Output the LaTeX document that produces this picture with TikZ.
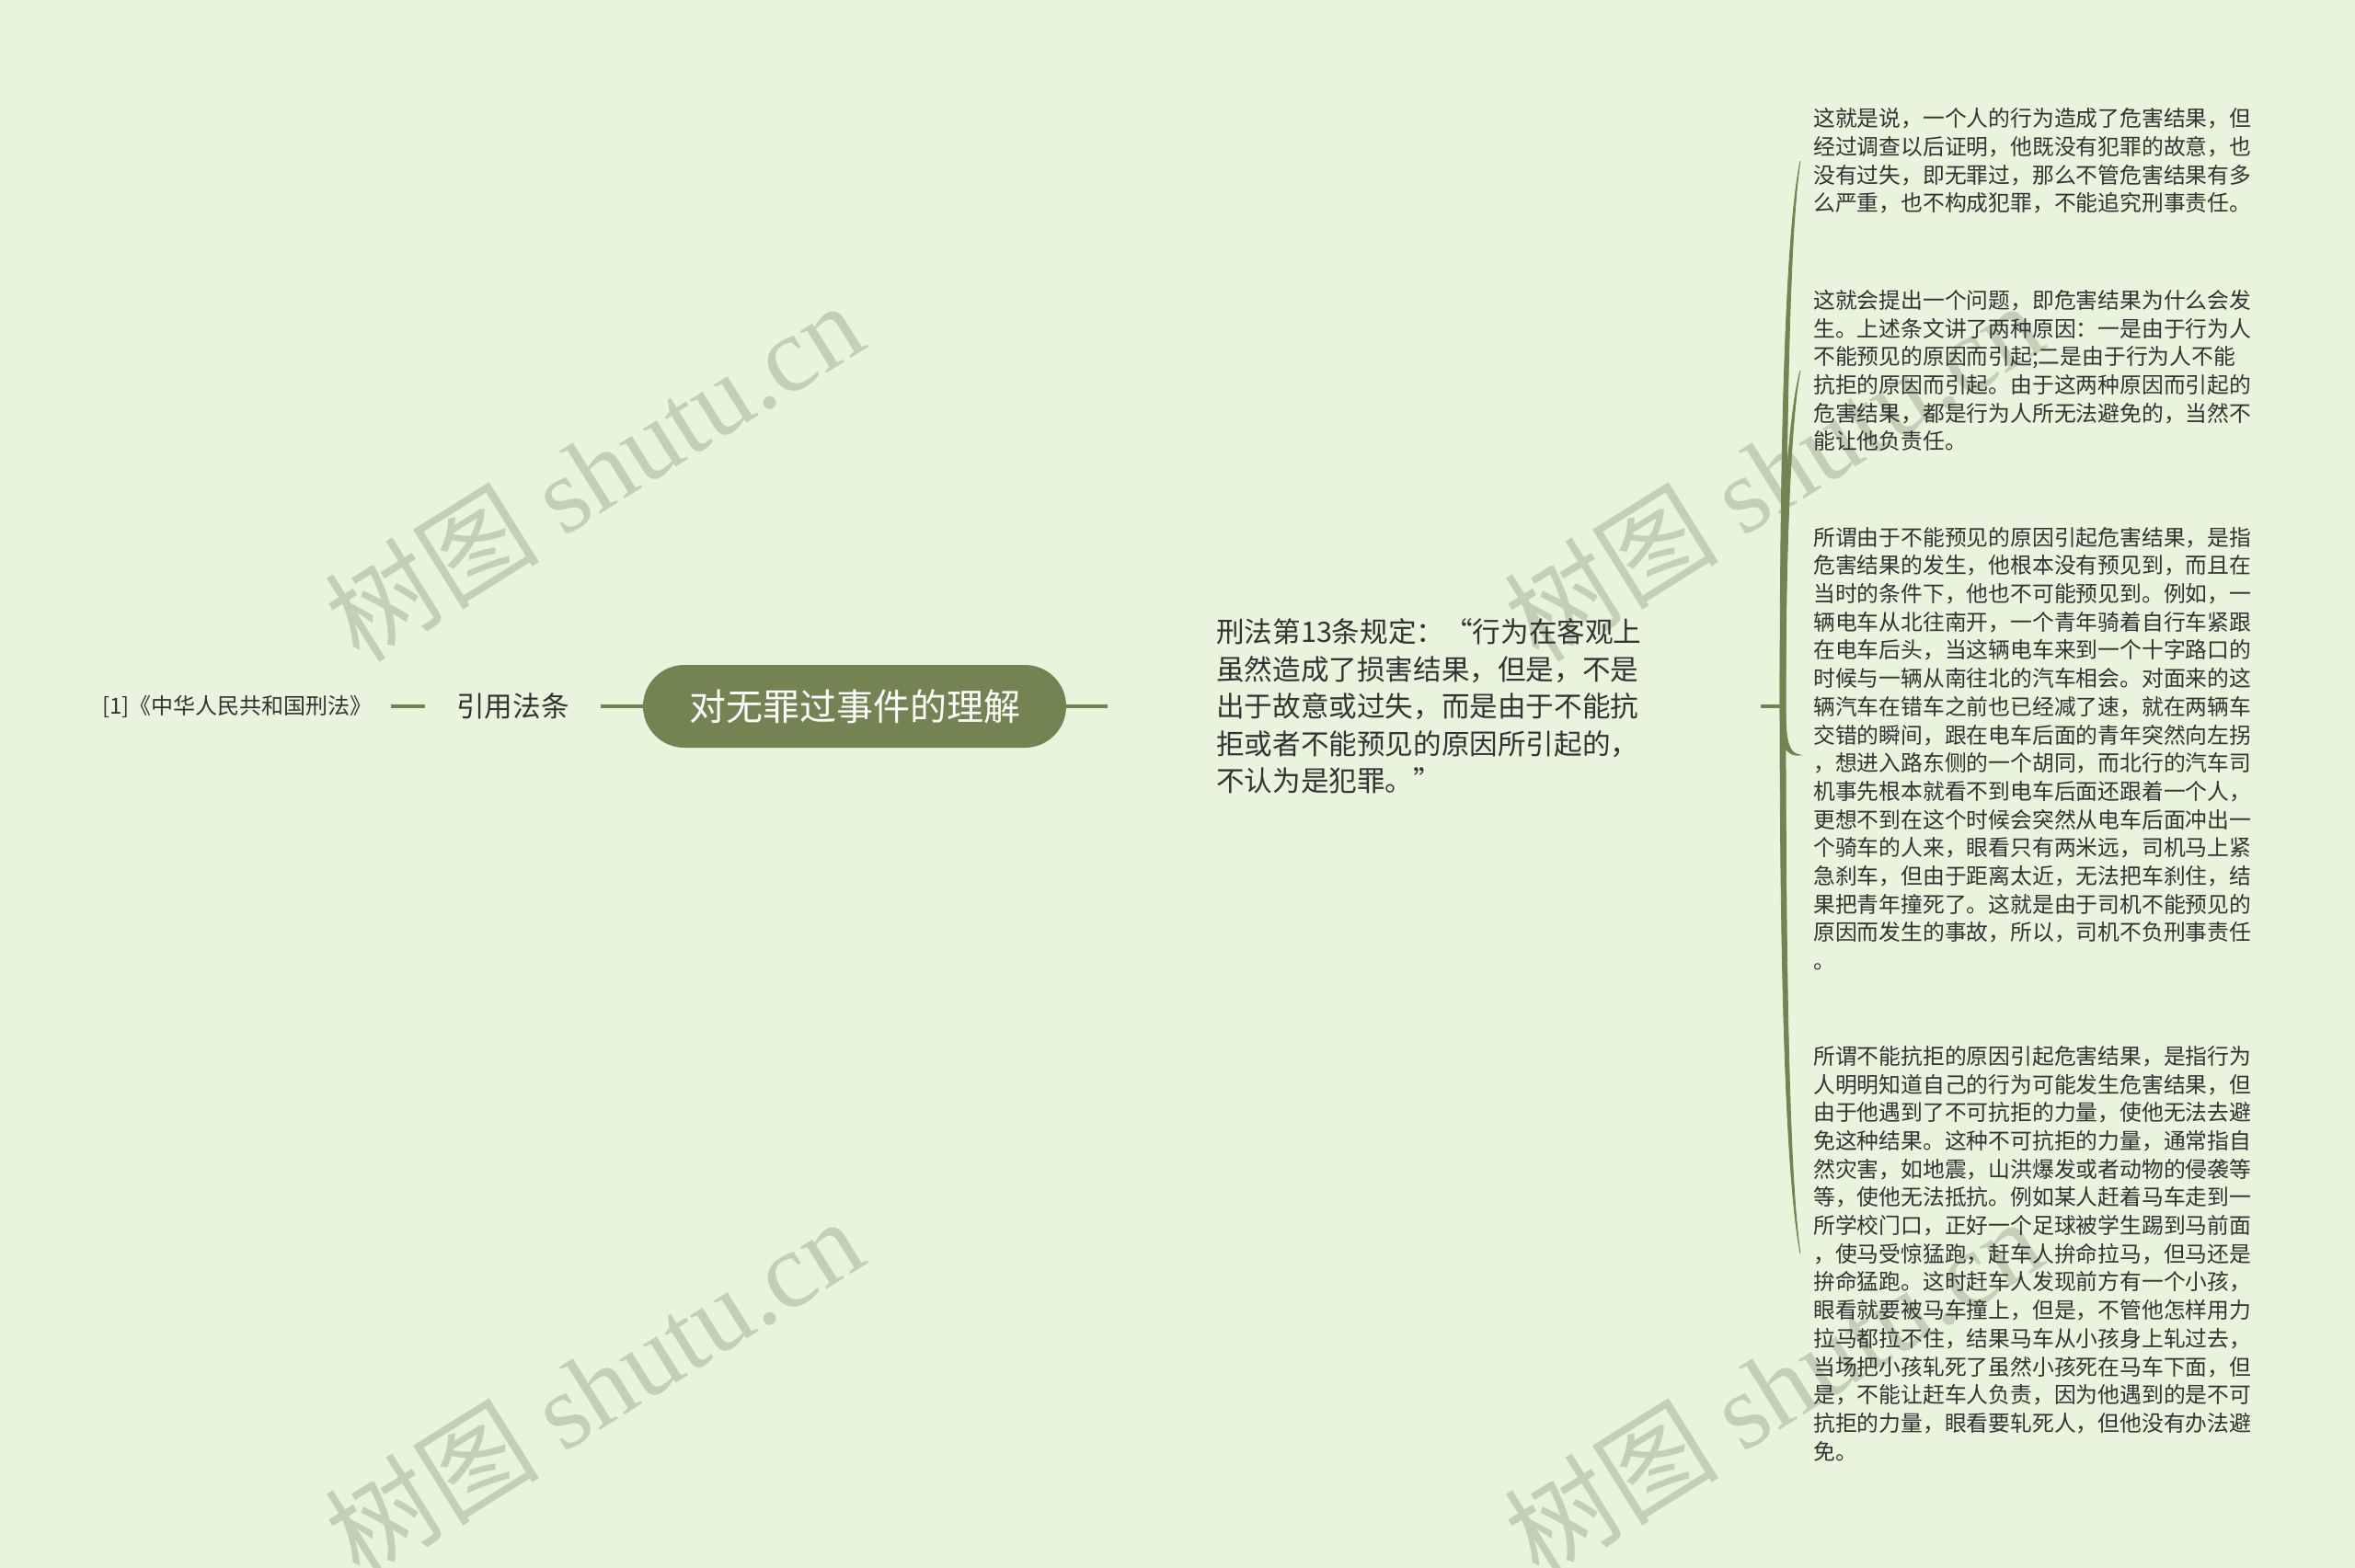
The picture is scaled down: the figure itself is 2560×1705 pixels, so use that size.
\documentclass[tikz,border=0pt]{standalone}
\usepackage{fontspec}
\setmainfont{Noto Sans CJK SC}
\newfontfamily\wmlat{Liberation Serif}
\usetikzlibrary{calc}
\definecolor{bgc}{HTML}{E8F5DC}
\definecolor{lc}{HTML}{738452}
\definecolor{tc}{HTML}{333333}
\definecolor{wmc}{HTML}{C4CFB7}
\begin{document}
\begin{tikzpicture}[x=1bp,y=-1bp,
  conn/.style={draw=lc,line width=4bp},
  taper/.style={fill=lc,draw=lc,line width=0.8bp},
  centerbox/.style={fill=lc,text=white,rounded corners=45bp,minimum width=460bp,minimum height=90bp,inner sep=0,font=\fontsize{40bp}{48bp}\selectfont},
  midtext/.style={text=tc,inner ysep=0,font=\fontsize{30.6bp}{36bp}\selectfont},
  citetext/.style={text=tc,inner ysep=0,inner xsep=20bp,font=\fontsize{24bp}{30bp}\selectfont},
  lawtext/.style={text=tc,inner sep=0,anchor=west,align=left,font=\fontsize{30.6bp}{40.5bp}\selectfont},
  leaf/.style={text=tc,inner sep=0,anchor=west,align=left,font=\fontsize{23.8bp}{30.7bp}\selectfont},
  wmark/.style={rotate=32,text=wmc,inner sep=0,font=\fontsize{117bp}{120bp}\selectfont}
]
\useasboundingbox (0,0) rectangle (2560,1705);
\fill[bgc] (0,0) rectangle (2560,1705);

% watermarks
\node[wmark] (wm1) at (645,512) {树图 {\wmlat shutu.cn}};
\node[wmark] (wm2) at (645,1508) {树图 {\wmlat shutu.cn}};
\node[wmark] (wm3) at (1927,512) {树图 {\wmlat shutu.cn}};
\node[wmark] (wm4) at (1927,1508) {树图 {\wmlat shutu.cn}};

% nodes
\node[centerbox] (c) at (929,768) {对无罪过事件的理解};
\node[midtext,inner xsep=34bp] (ref) at (557.5,768) {引用法条};
\node[citetext] (cite) at (258,768) {[1]《中华人民共和国刑法》};
\node[lawtext] (law) at (1322,768) {刑法第13条规定：“行为在客观上\\虽然造成了损害结果，但是，不是\\出于故意或过失，而是由于不能抗\\拒或者不能预见的原因所引起的，\\不认为是犯罪。”};

\node[leaf] (b1) at (1971,175) {这就是说，一个人的行为造成了危害结果，但\\经过调查以后证明，他既没有犯罪的故意，也\\没有过失，即无罪过，那么不管危害结果有多\\么严重，也不构成犯罪，不能追究刑事责任。};
\node[leaf] (b2) at (1971,403) {这就会提出一个问题，即危害结果为什么会发\\生。上述条文讲了两种原因：一是由于行为人\\不能预见的原因而引起;二是由于行为人不能\\抗拒的原因而引起。由于这两种原因而引起的\\危害结果，都是行为人所无法避免的，当然不\\能让他负责任。};
\node[leaf] (b3) at (1971,814) {所谓由于不能预见的原因引起危害结果，是指\\危害结果的发生，他根本没有预见到，而且在\\当时的条件下，他也不可能预见到。例如，一\\辆电车从北往南开，一个青年骑着自行车紧跟\\在电车后头，当这辆电车来到一个十字路口的\\时候与一辆从南往北的汽车相会。对面来的这\\辆汽车在错车之前也已经减了速，就在两辆车\\交错的瞬间，跟在电车后面的青年突然向左拐\\，想进入路东侧的一个胡同，而北行的汽车司\\机事先根本就看不到电车后面还跟着一个人，\\更想不到在这个时候会突然从电车后面冲出一\\个骑车的人来，眼看只有两米远，司机马上紧\\急刹车，但由于距离太近，无法把车刹住，结\\果把青年撞死了。这就是由于司机不能预见的\\原因而发生的事故，所以，司机不负刑事责任\\。};
\node[leaf] (b4) at (1971,1363) {所谓不能抗拒的原因引起危害结果，是指行为\\人明明知道自己的行为可能发生危害结果，但\\由于他遇到了不可抗拒的力量，使他无法去避\\免这种结果。这种不可抗拒的力量，通常指自\\然灾害，如地震，山洪爆发或者动物的侵袭等\\等，使他无法抵抗。例如某人赶着马车走到一\\所学校门口，正好一个足球被学生踢到马前面\\，使马受惊猛跑，赶车人拚命拉马，但马还是\\拚命猛跑。这时赶车人发现前方有一个小孩，\\眼看就要被马车撞上，但是，不管他怎样用力\\拉马都拉不住，结果马车从小孩身上轧过去，\\当场把小孩轧死了虽然小孩死在马车下面，但\\是，不能让赶车人负责，因为他遇到的是不可\\抗拒的力量，眼看要轧死人，但他没有办法避\\免。};

% connector coordinates
\coordinate (lawin) at ($(law.west)+(-118,0)$);
\coordinate (lawout) at ($(law.west)+(592,0)$);
\coordinate (br) at ($(law.west)+(616,0)$);
\coordinate (t1) at ($(b1.west)+(-14,0)$);
\coordinate (t2) at ($(b2.west)+(-14,0)$);
\coordinate (t3) at ($(b3.west)+(-14,7)$);
\coordinate (t4) at ($(b4.west)+(-14,0)$);

% straight connectors
\draw[conn] (cite.east) -- (ref.west);
\draw[conn] (ref.east) -- (c.west);
\draw[conn] (c.east) -- (lawin);
\draw[conn] (lawout) -- (br);

% tapered bracket curves
\path[taper] ($(br)+(-3,0)$) .. controls ($(br)+(-3,-368)$) and ($(t1)+(-12.5,60)$) .. (t1)
  .. controls ($(t1)+(-9.5,60)$) and ($(br)+(3,-368)$) .. ($(br)+(3,0)$) -- cycle;
\path[taper] ($(br)+(-3,0)$) .. controls ($(br)+(-3,-200)$) and ($(t2)+(-11.5,40)$) .. (t2)
  .. controls ($(t2)+(-8.5,40)$) and ($(br)+(3,-200)$) .. ($(br)+(3,0)$) -- cycle;
\path[taper] ($(br)+(-3,0)$) .. controls ($(br)+(-3,46)$) and ($(t3)+(-15,1.5)$) .. (t3)
  .. controls ($(t3)+(-13,-1.5)$) and ($(br)+(3,38)$) .. ($(br)+(3,0)$) -- cycle;
\path[taper] ($(br)+(-3,0)$) .. controls ($(br)+(-3,340)$) and ($(t4)+(-13.5,-70)$) .. (t4)
  .. controls ($(t4)+(-10.5,-70)$) and ($(br)+(3,340)$) .. ($(br)+(3,0)$) -- cycle;
\end{tikzpicture}
\end{document}
